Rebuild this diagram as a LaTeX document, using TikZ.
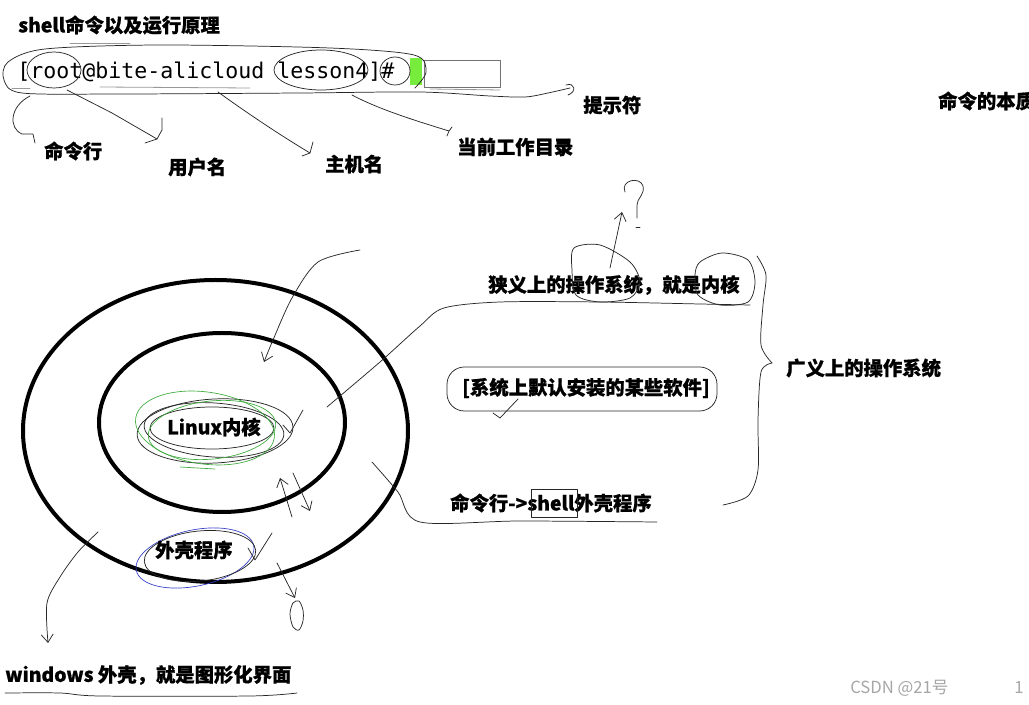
\documentclass[tikz,border=0pt]{standalone}
\usepackage{fontspec}
\setmainfont{Noto Sans CJK SC}
\newfontfamily\cjk{Noto Sans CJK SC}[BoldFeatures={FakeBold=0.8}]
\newfontfamily\monof{DejaVu Sans Mono}
\usetikzlibrary{arrows.meta}
\definecolor{hlgreen}{RGB}{120,236,60}
\definecolor{pengreen}{RGB}{60,170,60}
\definecolor{penblue}{RGB}{50,60,200}
\begin{document}
\begin{tikzpicture}[x=0.75pt,y=-0.75pt,
  lbl/.style={font=\cjk\bfseries\fontsize{14.5}{17}\selectfont, inner sep=0pt, anchor=west},
  pen/.style={line width=0.55pt, black!85, line cap=round, line join=round},
  lightpen/.style={line width=0.6pt, black!40, line cap=round},
  ring/.style={line width=3pt},
  arr/.style={pen, -{Straight Barb[length=6pt,width=9pt]}}]
\useasboundingbox (0,0) rectangle (1029,705);
\fill[white] (0,0) rectangle (1029,705);

% ---------- title and command line ----------
\node[lbl] (title) at (18,25) {shell命令以及运行原理};
\fill[hlgreen] (410,58) rectangle (422,85);
\draw[black!55, line width=0.6pt] (424,60) rectangle (500,87);
\node[inner sep=0pt, anchor=west, font=\monof\fontsize{16.2}{19}\selectfont] (cmd) at (17,72) {[root@bite-alicloud lesson4]\#};

% freehand enclosure of the prompt with tail to 提示符
\draw[pen] plot[smooth] coordinates {(415,88) (426,72) (414,55) (330,48) (160,45) (45,49) (8,62) (4,80) (22,93) (120,94) (300,93) (420,92) (490,96) (525,97) (548,93) (570,88)};
\draw[pen] (566,85) .. controls (575,82) and (577,92) .. (568,95);
\draw[lightpen] (70,43) -- (130,43);
\draw[lightpen] (100,87) -- (250,88);
\draw[lightpen] (12,88) -- (30,88);
\draw[lightpen] (430,89) -- (500,90);
% small ellipses
\draw[pen] (54,70) ellipse [x radius=27, y radius=18];
\draw[pen] (321,70) ellipse [x radius=47, y radius=20];
\draw[pen] (395,71) ellipse [x radius=15, y radius=14];

% labels
\node[lbl] (lcmd) at (44,151) {命令行};
\node[lbl] (luser) at (168,167) {用户名};
\node[lbl] (lhost) at (325,164) {主机名};
\node[lbl] (ldir) at (457,147) {当前工作目录};
\node[lbl] (lprompt) at (583,105) {提示符};
\node[lbl] (lessence) at (938,101) {命令的本质};

% connectors to labels
\draw[pen] (30,96) .. controls (10,106) and (8,128) .. (22,134) -- (33,134) -- (35,143);
\draw[pen] (67,90) -- (112,113) -- (157,139) -- (162,130) -- (162,118);
\draw[pen] (145,143) -- (157,139);
\draw[pen] (218,92) .. controls (250,115) and (280,135) .. (310,153) -- (313,142);
\draw[pen] (302,156) -- (310,153);
\draw[pen] (352,95) .. controls (380,110) and (420,122) .. (449,131) -- (452,127);
\draw[pen] (447,136) -- (449,131);

% ---------- rings ----------
\draw[ring] (215.5,431) ellipse [x radius=192.5, y radius=151];
\draw[ring] (222,422.5) ellipse [x radius=123, y radius=89.5];

% kernel scribbles
\draw[pen] (212,428) ellipse [x radius=62, y radius=21];
\draw[pen, rotate around={-4:(214,430)}] (214,430) ellipse [x radius=70, y radius=27];
\draw[pen, rotate around={3:(215,430)}] (215,431) ellipse [x radius=78, y radius=32];
\draw[pengreen, line width=0.5pt, rotate around={-8:(205,428)}] (205,428) ellipse [x radius=70, y radius=36];
\draw[pengreen, line width=0.5pt, rotate around={6:(212,430)}] (212,430) ellipse [x radius=64, y radius=29];
\draw[pengreen, line width=0.5pt] (180,467) -- (215,469);
\node[lbl] (kernel) at (167,427) {Linux内核};

% shell program scribbles
\draw[penblue, line width=0.5pt, rotate around={12:(195,558)}] (195,558) ellipse [x radius=60, y radius=28];
\draw[pen, rotate around={6:(200,556)}] (200,556) ellipse [x radius=56, y radius=25];
\node[lbl] (shellprog) at (155,550) {外壳程序};

% arrows and ticks inside rings
\draw[arr] plot[smooth] coordinates {(360,250) (318,262) (292,298) (273,340) (264,362)};
\draw[pen] (283,425) -- (290,433) -- (303,410);
\draw[arr] (292,517) -- (280,478);
\draw[arr] (293,473) -- (310,511);
\draw[pen] (248,548) -- (255,560) -- (272,533);
\draw[arr] (277,563) -- (295,598);
\draw[pen] plot[smooth cycle] coordinates {(293,603) (299,601) (303,610) (303,621) (299,630) (293,627) (290,614)};
\draw[arr] plot[smooth] coordinates {(98,532) (78,552) (60,577) (47,603) (48,643)};

% ---------- right side ----------
\node[lbl] (narrow) at (488,285) {狭义上的操作系统，就是内核};
\node[lbl] (broad) at (786,368) {广义上的操作系统};
\node[lbl] (soft) at (462,388) {[系统上默认安装的某些软件]};
\node[lbl] (shellline) at (450,503) {命令行->shell外壳程序};
\draw[pen] (531,489) rectangle (577,517);

\draw[pen] plot[smooth] coordinates {(327,407) (380,362) (420,326) (444,308) (500,302) (600,302) (700,304) (750,305)};
\draw[pen] plot[smooth] coordinates {(372,462) (398,492) (420,522) (520,521) (657,522)};
\draw[pen, rounded corners=13pt] (447,367) rectangle (717,411);
\draw[pen] (493,413) -- (500,418) -- (518,399);

% circles on narrow text and question mark
\draw[pen] plot[smooth cycle] coordinates {(574,248) (600,245) (630,262) (640,282) (630,298) (600,302) (576,295) (572,270)};
\draw[pen] plot[smooth cycle] coordinates {(700,262) (722,253) (748,260) (755,282) (748,302) (720,305) (698,295) (695,275)};
\draw[arr] (610,268) -- (622,212);
\draw[pen] (625,192) .. controls (620,180) and (640,176) .. (643,186) .. controls (645,195) and (637,198) .. (637,205) -- (637,218);
\draw[pen] (636,227) -- (640,227);

% brace
\draw[pen] plot[smooth] coordinates {(757,256) (766,275) (763,305) (761,345) (772,363)};
\draw[pen] plot[smooth] coordinates {(772,363) (761,372) (758,420) (758,470) (748,496) (723,505)};

% ---------- bottom ----------
\node[lbl] (windows) at (5,675) {windows 外壳，就是图形化界面};
\draw[pen] plot[smooth] coordinates {(5,693) (60,693) (100,696) (250,696) (297,693)};
\node[inner sep=0pt, anchor=west, text=black!35, font=\cjk\fontsize{12.5}{15}\selectfont] (wm) at (850,688) {CSDN @21号};
\node[inner sep=0pt, anchor=west, text=black!35, font=\cjk\fontsize{12.5}{15}\selectfont] (wm1) at (1014,688) {1};
\end{tikzpicture}
\end{document}
